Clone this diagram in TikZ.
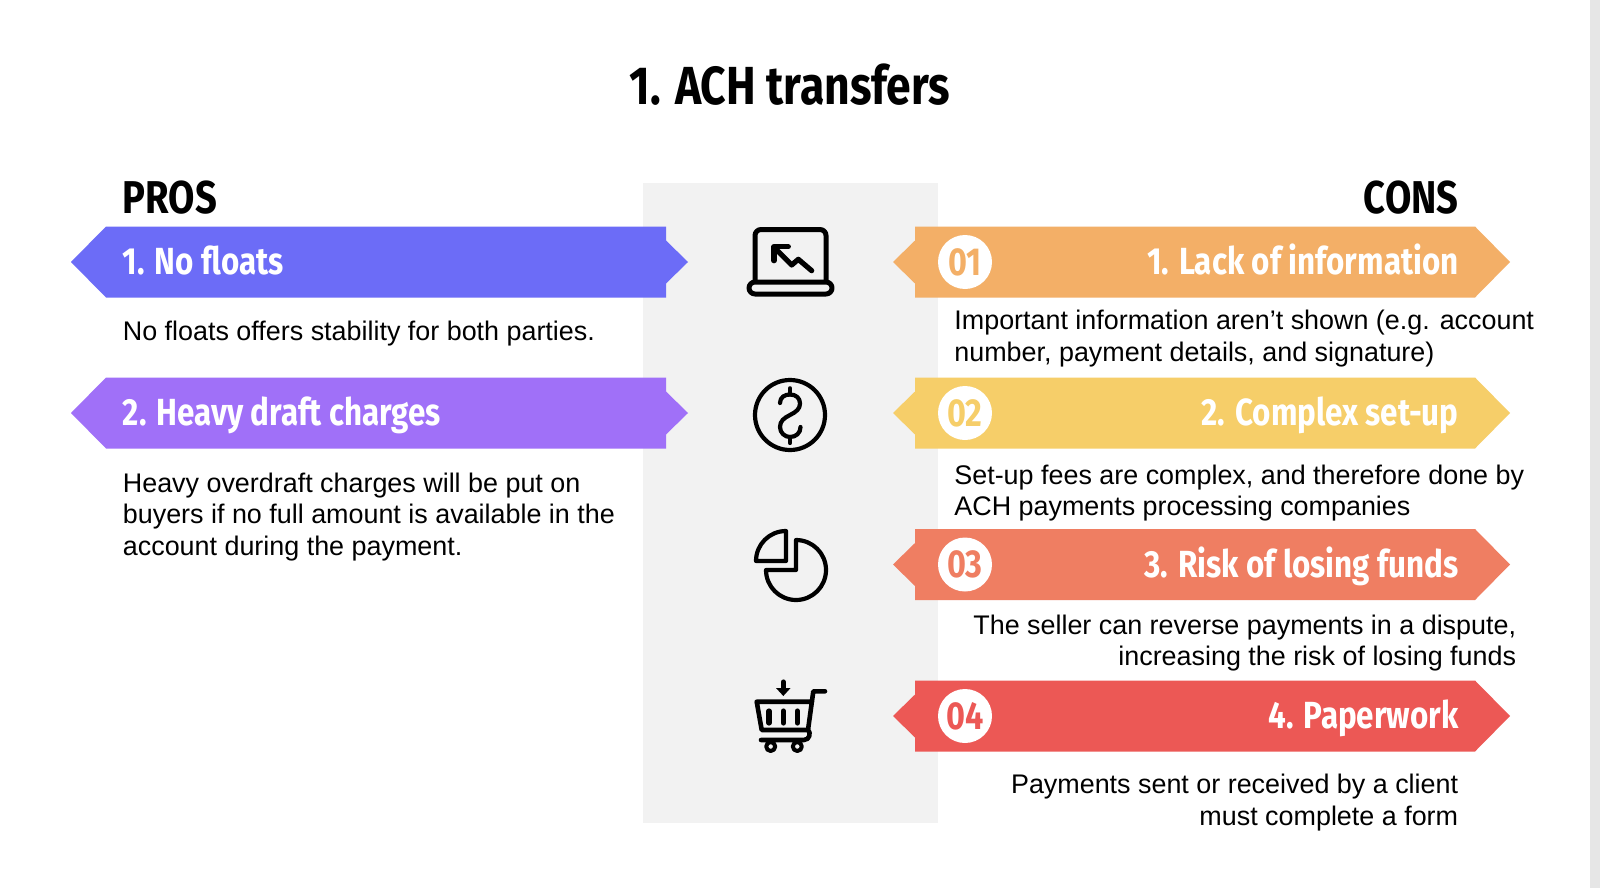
\documentclass[tikz,border=0pt]{standalone}
\usepackage{fontspec}
\setmainfont{Liberation Sans}
\newfontfamily\headfont[FakeStretch=0.83]{Fira Sans}
\definecolor{panelgray}{HTML}{F2F2F2}
\definecolor{edgegray}{HTML}{E6E6E6}
\definecolor{proone}{HTML}{6C6CF7}
\definecolor{protwo}{HTML}{A070F8}
\definecolor{conone}{HTML}{F3AF67}
\definecolor{contwo}{HTML}{F6CE69}
\definecolor{conthree}{HTML}{EF7E62}
\definecolor{confour}{HTML}{EC5855}
\tikzset{
  titletext/.style={font=\headfont\bfseries\fontsize{26.8}{30}\selectfont},
  sidetext/.style={font=\headfont\bfseries\fontsize{23}{25}\selectfont},
  ribbontext/.style={font=\headfont\bfseries\fontsize{18.9}{23}\selectfont, text=white, inner sep=0pt},
  bodytext/.style={font=\fontsize{13.45}{15.8}\selectfont, inner sep=0pt, text=black},
  numdisc/.style={circle, fill=white, minimum size=27pt, inner sep=0pt, font=\headfont\bfseries\fontsize{19.5}{20}\selectfont},
  icon/.style={line width=2.5pt, line join=round, line cap=round}
}
\begin{document}
\begin{tikzpicture}[x=0.5pt,y=-0.5pt]
  \useasboundingbox (0,0) rectangle (1600,888);
  \fill[white] (0,0) rectangle (1600,888);
  \fill[edgegray] (1590,0) rectangle (1600,888);
  \fill[panelgray] (643,183) rectangle (938,823);

  \node[titletext] (title) at (790,85) {1. ACH transfers};
  \node[sidetext, anchor=west, inner sep=0pt] (pros) at (122.5,198) {PROS};
  \node[sidetext, anchor=east, inner sep=0pt] (cons) at (1459,198) {CONS};

  % left ribbons
  \foreach \y/\col/\lbl in {262/proone/{1. No floats},413/protwo/{2. Heavy draft charges}} {
    \fill[\col] (71,\y) -- (106,\y-35.5) -- (666,\y-35.5) -- (666,\y-21.5) -- (688,\y)
      -- (666,\y+21.5) -- (666,\y+35.5) -- (106,\y+35.5) -- cycle;
    \node[ribbontext, anchor=base west] (pro\y) at (122.5,\y+12.5) {\lbl};
  }

  % right ribbons
  \foreach \y/\col/\num/\lbl in {262/conone/01/{1. Lack of information},413/contwo/02/{2. Complex set-up},
      564.5/conthree/03/{3. Risk of losing funds},716/confour/04/{4. Paperwork}} {
    \fill[\col] (893,\y) -- (915,\y-21.5) -- (915,\y-35.5) -- (1475,\y-35.5) -- (1510,\y)
      -- (1475,\y+35.5) -- (915,\y+35.5) -- (915,\y+21.5) -- cycle;
    \node[numdisc, text=\col] (disc\num) at (965,\y) {\num};
    \node[ribbontext, anchor=base east] (con\num) at (1459,\y+12.5) {\lbl};
  }

  \node[bodytext, anchor=west, align=left] (protext1) at (122.5,334)
    {No floats offers stability for both parties.};
  \node[bodytext, anchor=west, align=left] (protext2) at (122.5,517)
    {Heavy overdraft charges will be put on\\buyers if no full amount is available in the\\account during the payment.};
  \node[bodytext, anchor=west, align=left] (context1) at (954,338.5)
    {Important information aren’t shown (e.g. account\\number, payment details, and signature)};
  \node[bodytext, anchor=west, align=left] (context2) at (954,493)
    {Set-up fees are complex, and therefore done by\\ACH payments processing companies};
  \node[bodytext, anchor=east, align=right] (context3) at (1516.5,643)
    {The seller can reverse payments in a dispute,\\increasing the risk of losing funds};
  \node[bodytext, anchor=east, align=right] (context4) at (1458.5,802.5)
    {Payments sent or received by a client\\must complete a form};

  % laptop
  \draw[icon, rounded corners=3pt] (755,281) -- (755,229.5) -- (826,229.5) -- (826,281);
  \draw[icon, rounded corners=3pt] (749,282) -- (749,294) -- (832,294) -- (832,282) -- cycle;
  \draw[icon, line width=2.6pt] (811.7,270.7) -- (798.3,259.3) -- (791.7,265) -- (775,248.3);
  \draw[icon, line width=2.6pt] (774,260.7) -- (774,246.7) -- (788.3,246.7);

  % dollar
  \draw[icon, line width=2.1pt] (790,415) circle (35);
  \draw[icon, line width=2.1pt] (780,403) .. controls (780,397) and (785,394.5) .. (790,394.5)
    .. controls (796,394.5) and (800,398) .. (800,403.5)
    .. controls (800,409) and (796,412) .. (790,415)
    .. controls (784,418) and (780,421) .. (780,427)
    .. controls (780,433) and (785,437) .. (790,437)
    .. controls (796,437) and (800.5,433) .. (800.5,427);
  \draw[icon, line width=2.1pt] (790,388.3) -- (790,394.5);
  \draw[icon, line width=2.1pt] (790,437) -- (790,443);

  % pie
  \draw[icon, line width=2.1pt] (796,570) -- (796,540) arc[start angle=270, end angle=540, radius=30] -- cycle;
  \draw[icon, line width=2.1pt] (786,561) -- (786,531) arc[start angle=270, end angle=180, radius=30] -- cycle;

  % cart
  \draw[icon, line width=2.6pt] (783.3,682) -- (783.3,690);
  \fill (776,688) -- (790.6,688) -- (783.3,696) -- cycle;
  \draw[icon, line width=2.3pt] (825,691.3) -- (813.3,691.3) -- (808,730) -- (761.7,730) -- (756.7,701.7) -- (812,701.7);
  \draw[icon, line width=2.3pt] (761,740) -- (804,740) .. controls (810,740) and (811,732) .. (808,730);
  \foreach \x in {769,783.3,797.3} {
    \draw[icon, line width=2.6pt] (\x,711) -- (\x,723);
  }
  \foreach \x in {770.7,797.3} {
    \draw[icon, line width=2pt] (\x,746.5) circle (4.5);
  }
\end{tikzpicture}
\end{document}
